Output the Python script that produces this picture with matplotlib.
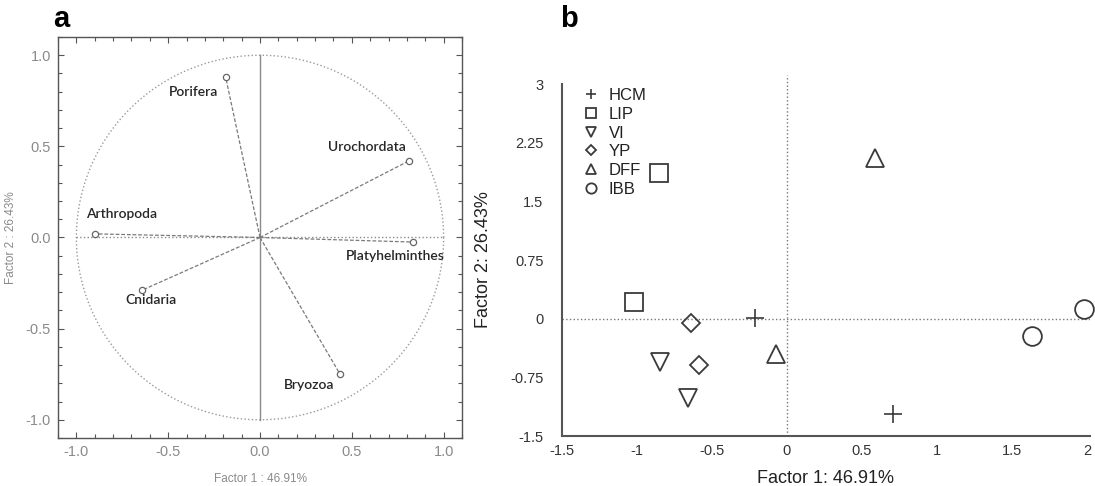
import numpy as np
import matplotlib
matplotlib.use("Agg")
import matplotlib.pyplot as plt
from matplotlib.ticker import MultipleLocator, FormatStrFormatter

plt.rcParams["font.family"] = ["Liberation Sans", "DejaVu Sans"]

# (a) loadings of the phyla on the first two factors
phyla = ["Porifera", "Urochordata", "Arthropoda", "Platyhelminthes", "Cnidaria", "Bryozoa"]
load_f1 = [-0.187, 0.81, -0.90, 0.835, -0.644, 0.436]
load_f2 = [0.88, 0.42, 0.02, -0.025, -0.29, -0.75]

# (b) factor scores of the sites
sites = ["HCM", "LIP", "VI", "YP", "DFF", "IBB"]
score_f1 = {
    "HCM": [-0.21, 0.708],
    "LIP": [-0.85, -1.02],
    "VI": [-0.845, -0.656],
    "YP": [-0.64, -0.583],
    "DFF": [0.59, -0.07],
    "IBB": [1.98, 1.635],
}
score_f2 = {
    "HCM": [0.01, -1.22],
    "LIP": [1.86, 0.21],
    "VI": [-0.56, -1.02],
    "YP": [-0.06, -0.59],
    "DFF": [2.06, -0.455],
    "IBB": [0.13, -0.22],
}

# label offsets (points) for the loading labels
label_off = [(-23, -11), (-30, 10), (19, 14.5), (-13, -10), (7, -7), (-22, -8)]
site_marker = {"HCM": "+", "LIP": "s", "VI": "v", "YP": "D", "DFF": "^", "IBB": "o"}
site_size = {"HCM": 13, "LIP": 13.5, "VI": 13, "YP": 9.5, "DFF": 13, "IBB": 13.5}

W, H = 1095, 486
fig = plt.figure(figsize=(W / 100, H / 100), dpi=100)

# ---------- panel a ----------
ax = fig.add_axes([58 / W, 1 - 438 / H, 404 / W, 401 / H])
grey = "#8a8a8a"
t = np.linspace(0, 2 * np.pi, 400)
ax.plot(np.cos(t), np.sin(t), ls=":", color="#9a9a9a", lw=1.0)
ax.plot([0, 0], [-1, 1], color="#8a8a8a", lw=1.0)
ax.plot([-1, 1], [0, 0], ls=":", color="#8a8a8a", lw=1.0)
for name, x, y, off in zip(phyla, load_f1, load_f2, label_off):
    ax.plot([0, x], [0, y], ls=(0, (3, 1.5)), color="#7a7a7a", lw=0.9)
    ax.plot(x, y, "o", ms=4.5, mfc="white", mec="#666666", mew=0.9)
    ax.annotate(name, (x, y), xytext=off, textcoords="offset points",
                ha="center", va="center", fontsize=10, family="Lato",
                fontweight="semibold", color="#262626")
ax.set_xlim(-1.1, 1.1)
ax.set_ylim(-1.1, 1.1)
ax.xaxis.set_major_locator(MultipleLocator(0.5))
ax.yaxis.set_major_locator(MultipleLocator(0.5))
ax.xaxis.set_minor_locator(MultipleLocator(0.1))
ax.yaxis.set_minor_locator(MultipleLocator(0.1))
ax.tick_params(which="both", direction="in", top=True, right=True,
               color="#555555", width=0.8)
ax.tick_params(which="major", length=4, labelsize=10.5, labelcolor=grey, pad=5)
ax.tick_params(which="minor", length=3)
ax.xaxis.set_major_formatter(FormatStrFormatter("%.1f"))
ax.yaxis.set_major_formatter(FormatStrFormatter("%.1f"))
for s in ax.spines.values():
    s.set_color("#555555")
    s.set_linewidth(1.0)
ax.set_xlabel("Factor 1 : 46.91%", fontsize=8.5, color=grey)
ax.set_ylabel("Factor 2 : 26.43%", fontsize=8.5, color=grey)
ax.xaxis.set_label_coords(0.5, -0.087)
ax.yaxis.set_label_coords(-0.101, 0.5)

# ---------- panel b ----------
bx = fig.add_axes([561.6 / W, 1 - 436 / H, 528.4 / W, 361.3 / H])
bx.axhline(0, ls=":", color="#777777", lw=1.0)
bx.axvline(0, ls=":", color="#777777", lw=1.0)
for site in sites:
    bx.plot(score_f1[site], score_f2[site], ls="none", marker=site_marker[site],
            ms=site_size[site], mfc="none", mec="#3a3a3a",
            mew=1.3 if site != "HCM" else 1.2, label=site, clip_on=False)
bx.set_xlim(-1.5, 2.02)
bx.set_ylim(-1.5, 3.12)
bx.set_xticks([-1.5, -1, -0.5, 0, 0.5, 1, 1.5, 2])
bx.set_xticklabels(["-1.5", "-1", "-0.5", "0", "0.5", "1", "1.5", "2"])
bx.set_yticks([-1.5, -0.75, 0, 0.75, 1.5, 2.25, 3])
bx.set_yticklabels(["-1.5", "-0.75", "0", "0.75", "1.5", "2.25", "3"])
bx.tick_params(length=0, labelsize=10.5, labelcolor="#333333")
bx.tick_params(axis="y", pad=13)
bx.tick_params(axis="x", pad=6)
bx.spines["top"].set_visible(False)
bx.spines["right"].set_visible(False)
for k in ["left", "bottom"]:
    bx.spines[k].set_color("#555555")
    bx.spines[k].set_linewidth(1.5)
bx.spines["left"].set_bounds(-1.5, 3.0)
bx.set_xlabel("Factor 1: 46.91%", fontsize=13, color="#222222")
bx.set_ylabel("Factor 2: 26.43%", fontsize=13, color="#222222")
bx.xaxis.set_label_coords(0.5, -0.094)
bx.yaxis.set_label_coords(-0.132, 0.487)
leg = bx.legend(loc="upper left", bbox_to_anchor=(0.018, 0.995), frameon=False,
                markerscale=0.55, fontsize=12, handlelength=1.0,
                handletextpad=0.55, labelspacing=0.22, borderpad=0.2)
for txt in leg.get_texts():
    txt.set_color("#222222")

fig.text(61.7 / W, 1 - 27 / H, "a", fontsize=21, fontweight="bold", ha="center", va="baseline")
fig.text(569 / W, 1 - 27 / H, "b", fontsize=21, fontweight="bold", ha="center", va="baseline")

fig.savefig("out.png", dpi=100)
